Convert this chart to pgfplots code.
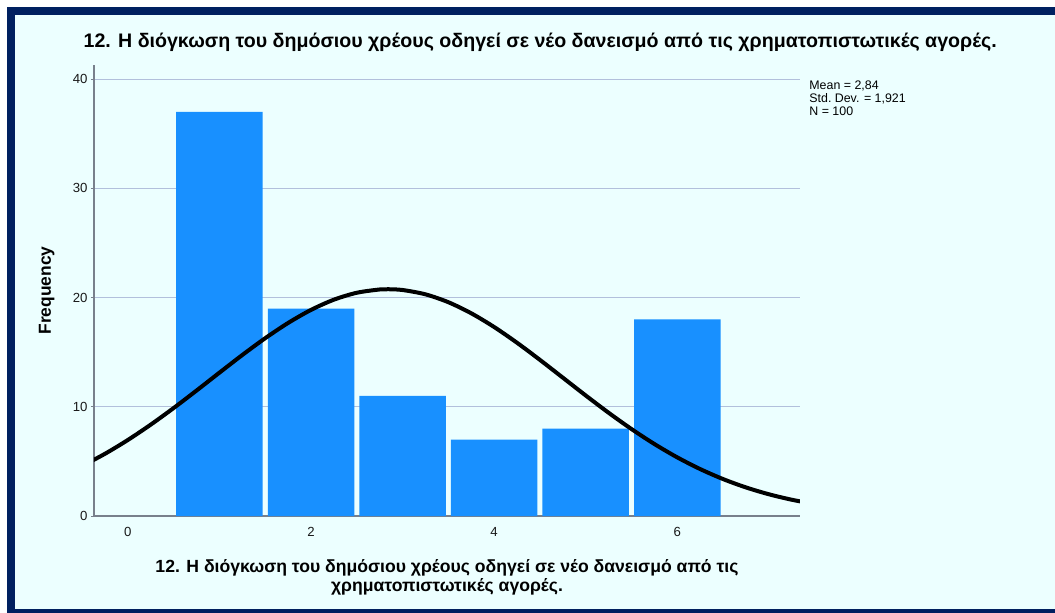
\documentclass[border=0pt]{standalone}
\usepackage{pgfplots}
\pgfplotsset{compat=1.18}
\usepackage{fontspec}
\setmainfont{Liberation Sans}

\definecolor{bgc}{RGB}{236,255,255}
\definecolor{navy}{RGB}{0,32,96}
\definecolor{barblue}{RGB}{24,144,255}
\definecolor{gridc}{RGB}{178,192,220}
\definecolor{axc}{RGB}{120,128,140}

\begin{document}
\begin{tikzpicture}
% frame: 1px = 0.5pt
\useasboundingbox (0,0) rectangle (527.5pt,306pt);
\fill[white] (-5pt,-5pt) rectangle (560pt,310pt);
\fill[navy] (3.5pt,1.5pt) rectangle (560pt,302.5pt);
\fill[navy] (3.5pt,-5pt) rectangle (560pt,1.5pt);
\fill[bgc] (7.5pt,1.5pt) rectangle (560pt,298.5pt);

\begin{axis}[
    name=ax,
    at={(47pt,48pt)}, anchor=south west,
    scale only axis,
    width=353pt, height=225.5pt,
    xmin=-0.37, xmax=7.34,
    ymin=0, ymax=41.3,
    axis x line*=bottom, axis y line*=left,
    axis line style={axc, line width=0.6pt},
    xtick={0,2,4,6}, ytick={0,10,20,30,40},
    ymajorgrids, grid style={gridc, line width=0.6pt},
    tick style={axc, line width=0.5pt},
    major tick length=1.5pt,
    xtick style={draw=none},
    tick align=outside,
    /pgf/number format/assume math mode=true,
    ticklabel style={font=\fontsize{6.6}{7.5}\selectfont, text=black!90},
    yticklabel style={xshift=1.8pt},
    xticklabel style={yshift=-0.6pt},
    every axis title shift=0pt,
    title={12. Η διόγκωση του δημόσιου χρέους οδηγεί σε νέο δανεισμό από τις χρηματοπιστωτικές αγορές.},
    title style={at={(axis description cs:0.632,1.051)}, anchor=center,
        font=\fontsize{9.8}{11}\selectfont\bfseries},
    xlabel={12. Η διόγκωση του δημόσιου χρέους οδηγεί σε νέο δανεισμό από τις\\χρηματοπιστωτικές αγορές.},
    xlabel style={at={(axis description cs:0.5,-0.136)}, anchor=center, align=center,
        font=\fontsize{8.8}{9.5}\selectfont\bfseries},
    ylabel={Frequency},
    ylabel style={at={(axis description cs:-0.067,0.5)}, anchor=center,
        font=\fontsize{8.7}{10}\selectfont\bfseries},
    clip=true,
]
\addplot[ybar, bar width=0.945, fill=barblue, draw=none]
  coordinates {(1,37) (2,19) (3,11) (4,7) (5,8) (6,18)};

\addplot[black, line width=2pt, smooth] coordinates {
(-0.5,4.581) (-0.25,5.697) (0,6.963) (0.25,8.369) (0.5,9.889) (0.75,11.490)
(1,13.127) (1.25,14.745) (1.5,16.283) (1.75,17.679) (2,18.873) (2.25,19.810)
(2.5,20.444) (2.75,20.744) (2.84,20.767) (3,20.695) (3.25,20.299) (3.5,19.577)
(3.75,18.563) (4,17.306) (4.25,15.863) (4.5,14.296) (4.75,12.668) (5,11.037)
(5.25,9.454) (5.5,7.962) (5.75,6.593) (6,5.368) (6.25,4.297) (6.5,3.382)
(6.75,2.617) (7,1.991) (7.25,1.490) (7.5,1.096)};
\end{axis}

\node[anchor=north west, align=left, inner sep=0pt,
      font=\fontsize{6.2}{6.65}\selectfont]
  at ([xshift=4.5pt,yshift=-7.5pt]ax.north east)
  {Mean = 2,84\\Std.\ Dev. = 1,921\\N = 100};
\end{tikzpicture}
\end{document}
